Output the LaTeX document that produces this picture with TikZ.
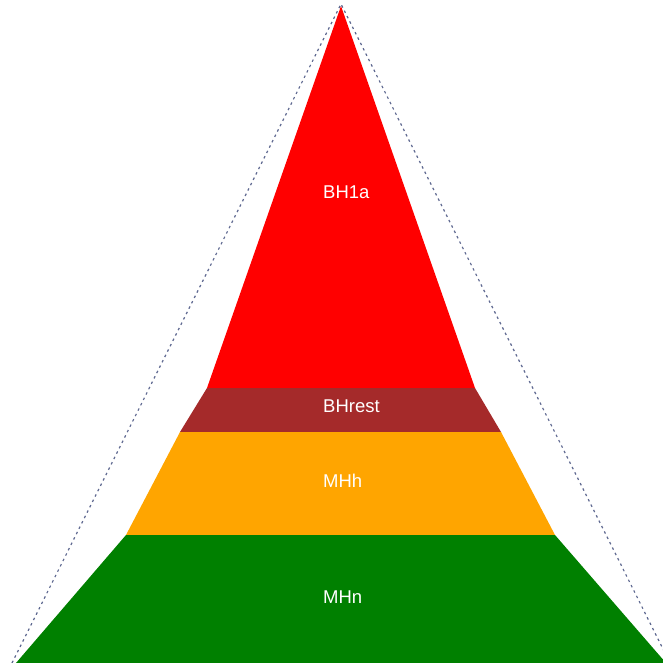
\documentclass[tikz,border=0pt]{standalone}
\usepackage{fontspec}
\setmainfont{Liberation Sans}
\definecolor{bhared}{HTML}{FF0000}
\definecolor{bhrestbrown}{HTML}{A52A2A}
\definecolor{mhhorange}{HTML}{FFA500}
\definecolor{mhngreen}{HTML}{008000}
\definecolor{outlinegray}{RGB}{95,105,145}
\begin{document}
\begin{tikzpicture}[x=1pt, y=-1pt,
    bandtext/.style={text=white, anchor=base west, inner sep=0pt, font=\fontsize{18.5}{22}\selectfont},
    outline/.style={outlinegray, line width=1.2pt, dash pattern=on 2.5pt off 3.5pt}]
    \useasboundingbox (0,0) rectangle (662,663);
    % bands of the pyramid
    \fill[bhared] (341,6) -- (475,388) -- (207,388) -- cycle;
    \fill[bhrestbrown] (207,388) -- (475,388) -- (501,432) -- (180,432) -- cycle;
    \fill[mhhorange] (180,432) -- (501,432) -- (555,535) -- (126,535) -- cycle;
    \fill[mhngreen] (126,535) -- (555,535) -- (666,663) -- (16,663) -- cycle;
    % dashed outline
    \coordinate (apex) at (341,4);
    \coordinate (leftfoot) at (12,663);
    \coordinate (rightfoot) at (670,663);
    \draw[outline] (leftfoot) -- (apex) -- (rightfoot);
    % labels
    \node[bandtext] (bh1a) at (323,198) {BH1a};
    \node[bandtext] (bhrest) at (323,412) {BHrest};
    \node[bandtext] (mhh) at (323,487) {MHh};
    \node[bandtext] (mhn) at (323,603) {MHn};
\end{tikzpicture}
\end{document}
